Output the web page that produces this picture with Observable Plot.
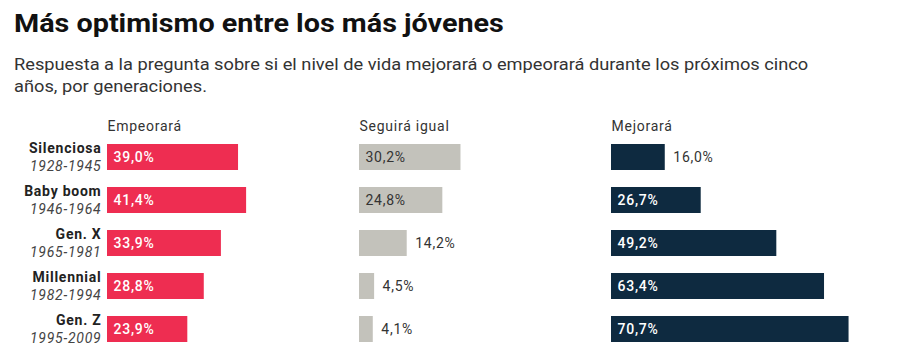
<!DOCTYPE html>
<html>
<head>
<meta charset="utf-8">
<script src="https://cdn.jsdelivr.net/npm/d3@7"></script>
<script src="https://cdn.jsdelivr.net/npm/@observablehq/plot@0.6"></script>
<style>
  html, body { margin: 0; padding: 0; background: #fff; }
  body { width: 900px; height: 358px; overflow: hidden; font-family: Roboto, sans-serif; }
  h1 { margin: 0; padding: 6px 0 0 14px; font-size: 26.5px; line-height: 34px; font-weight: 700; color: #111;
       transform: scaleX(1.085); transform-origin: 14px 0; white-space: nowrap; }
  .sub { margin: 14px 0 0 14px; font-size: 16.5px; line-height: 22px; color: #333;
         transform: scaleX(1.105); transform-origin: 0 0; white-space: nowrap; }
  #chart svg { display: block; }
</style>
</head>
<body>
<h1>Más optimismo entre los más jóvenes</h1>
<div class="sub">Respuesta a la pregunta sobre si el nivel de vida mejorará o empeorará durante los próximos cinco<br>años, por generaciones.</div>
<div id="chart"></div>
<script>
const categories = ["Empeorará", "Seguirá igual", "Mejorará"];
const generations = ["Silenciosa", "Baby boom", "Gen. X", "Millennial", "Gen. Z"];
const years = ["1928-1945", "1946-1964", "1965-1981", "1982-1994", "1995-2009"];
const empeorara = [39.0, 41.4, 33.9, 28.8, 23.9];
const seguiraIgual = [30.2, 24.8, 14.2, 4.5, 4.1];
const mejorara = [16.0, 26.7, 49.2, 63.4, 70.7];
const colors = ["#ee2d51", "#c3c2bb", "#0e2a40"];

const series = [empeorara, seguiraIgual, mejorara];
const data = [];
categories.forEach((cat, ci) => {
  generations.forEach((gen, gi) => {
    data.push({cat, gen, value: series[ci][gi]});
  });
});
const rows = generations.map((gen, i) => ({gen, years: years[i]}));
const fmt = v => v.toFixed(1).replace(".", ",") + "%";
const inside = d => d.value >= 20;

const chart = Plot.plot({
  width: 900,
  height: 260,
  marginTop: 36,
  marginBottom: 7,
  marginLeft: 107,
  marginRight: 37,
  style: {fontFamily: "Roboto, sans-serif", fontSize: "14px", letterSpacing: "0.75px"},
  fx: {domain: categories, padding: 0, axis: null},
  x: {domain: [0, 75], axis: null},
  y: {domain: generations, paddingInner: 0.4, paddingOuter: 0.2, axis: null},
  color: {domain: categories, range: colors},
  marks: [
    Plot.barX(data, {fx: "cat", y: "gen", x: "value", fill: "cat"}),
    Plot.text(data, {filter: d => inside(d) && d.cat !== "Seguirá igual", fx: "cat", y: "gen", x: 0, text: d => fmt(d.value), textAnchor: "start", dx: 6, fill: "white", fontWeight: 500}),
    Plot.text(data, {filter: d => inside(d) && d.cat === "Seguirá igual", fx: "cat", y: "gen", x: 0, text: d => fmt(d.value), textAnchor: "start", dx: 6, fill: "#333"}),
    Plot.text(data, {filter: d => !inside(d), fx: "cat", y: "gen", x: "value", text: d => fmt(d.value), textAnchor: "start", dx: 8, fill: "#333"}),
    Plot.text(categories, {fx: d => d, text: d => d, frameAnchor: "top-left", textAnchor: "start", dy: -13, fill: "#333"}),
    Plot.text(rows, {fx: () => "Empeorará", y: "gen", text: "gen", frameAnchor: "left", textAnchor: "end", dx: -6, dy: -8.5, fontWeight: "bold", fill: "#222"}),
    Plot.text(rows, {fx: () => "Empeorará", y: "gen", text: "years", frameAnchor: "left", textAnchor: "end", dx: -6, dy: 9, fontStyle: "italic", fill: "#444"})
  ]
});
document.getElementById("chart").appendChild(chart);
</script>
</body>
</html>
